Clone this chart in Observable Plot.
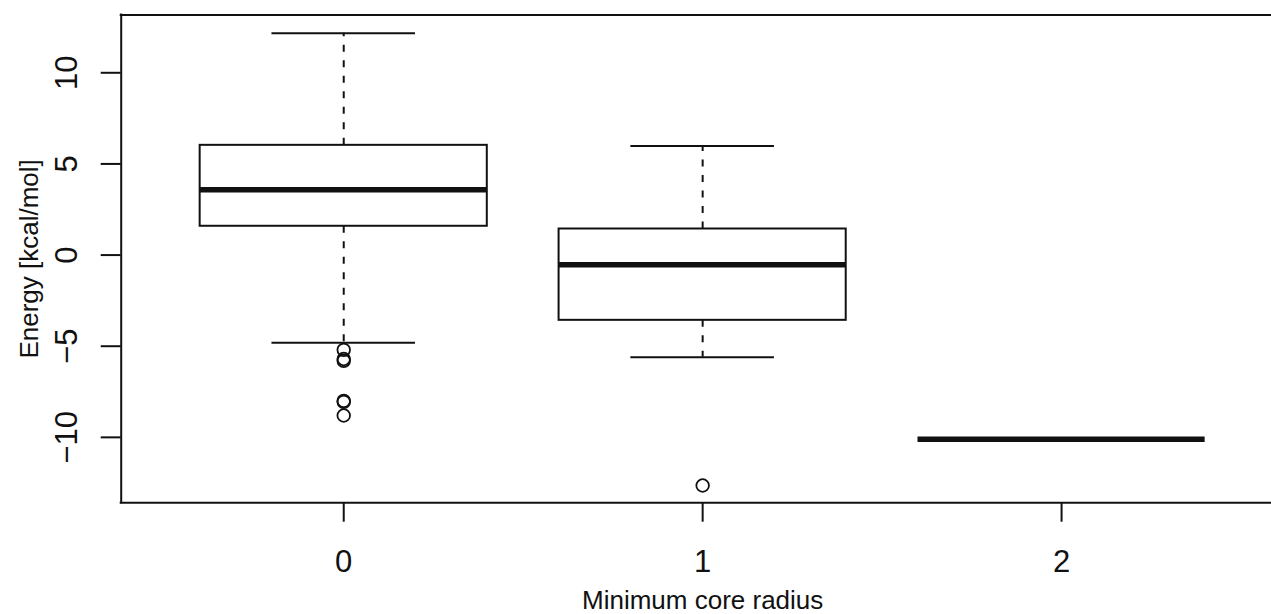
<!DOCTYPE html>
<html><head><meta charset="utf-8">
<script src="https://cdn.jsdelivr.net/npm/d3@7"></script>
<script src="https://cdn.jsdelivr.net/npm/@observablehq/plot@0.6"></script>
<style>html,body{margin:0;padding:0;background:#fff;overflow:hidden;}</style>
</head><body><div id="chart"></div>
<script>
// Data
const groups = [0, 1, 2];
const groupLabels = ["0", "1", "2"];
const whiskerLow = [-4.81, -5.61, -10.1];
const q1 = [1.58, -3.58, -10.1];
const median = [3.59, -0.53, -10.1];
const q3 = [6.02, 1.43, -10.1];
const whiskerHigh = [12.17, 5.99, -10.1];
const outlierGroup = [0, 0, 0, 0, 0, 0, 1];
const outlierValue = [-5.2, -5.7, -5.8, -8.0, -8.05, -8.8, -12.64];
const yTicks = [-10, -5, 0, 5, 10];
const yTickLabels = ["\u221210", "\u22125", "0", "5", "10"];
const xTitle = "Minimum core radius";
const yTitle = "Energy [kcal/mol]";

const boxes = groups.map((g, i) => ({g, lo: whiskerLow[i], q1: q1[i], med: median[i], q3: q3[i], hi: whiskerHigh[i]}));
const outliers = outlierGroup.map((g, i) => ({g, v: outlierValue[i]}));

const xDomain = [-0.62, 2.62];
const yDomain = [-13.59, 13.17];
const ink = "#111";
const font = "Liberation Sans, Arial, Helvetica, sans-serif";

const chart = Plot.plot({
  width: 1271,
  height: 614,
  marginLeft: 120.7,
  marginRight: 0,
  marginTop: 14.5,
  marginBottom: 111.7,
  style: {fontFamily: font, fontSize: "26px", color: ink, background: "#fff", overflow: "hidden"},
  x: {type: "linear", domain: xDomain, range: [120.7, 1283.6]},
  y: {type: "linear", domain: yDomain, range: [502.3, 14.5]},
  marks: [
    // whiskers (dashed)
    Plot.ruleX(boxes, {x: "g", y1: "q3", y2: "hi", stroke: ink, strokeWidth: 2, strokeDasharray: "7,8.5"}),
    Plot.ruleX(boxes, {x: "g", y1: "q1", y2: "lo", stroke: ink, strokeWidth: 2, strokeDasharray: "7,8.5"}),
    // staples
    Plot.ruleY(boxes, {y: "hi", x1: d => d.g - 0.2, x2: d => d.g + 0.2, stroke: ink, strokeWidth: 2}),
    Plot.ruleY(boxes, {y: "lo", x1: d => d.g - 0.2, x2: d => d.g + 0.2, stroke: ink, strokeWidth: 2}),
    // boxes
    Plot.rect(boxes, {x1: d => d.g - 0.4, x2: d => d.g + 0.4, y1: "q1", y2: "q3", fill: "white", stroke: ink, strokeWidth: 2}),
    // medians
    Plot.ruleY(boxes, {y: "med", x1: d => d.g - 0.4, x2: d => d.g + 0.4, stroke: ink, strokeWidth: 5.5}),
    // outliers
    Plot.dot(outliers, {x: "g", y: "v", r: 6.3, stroke: ink, strokeWidth: 1.8, fill: "none"}),
    // plot border
    Plot.ruleY(yDomain, {y: d => d, x1: () => xDomain[0], x2: () => xDomain[1], stroke: ink, strokeWidth: 2, strokeLinecap: "square"}),
    Plot.ruleX(xDomain, {x: d => d, y1: () => yDomain[0], y2: () => yDomain[1], stroke: ink, strokeWidth: 2, strokeLinecap: "square"}),
    // axis ticks
    Plot.axisY({ticks: yTicks, tickSize: 20, tickFormat: () => "", label: null, stroke: ink, strokeWidth: 2}),
    Plot.axisX({ticks: groups, tickSize: 19.4, tickFormat: () => "", label: null, stroke: ink, strokeWidth: 2}),
    // tick labels
    Plot.text(yTicks, {y: d => d, text: (d, i) => yTickLabels[i], frameAnchor: "left", dx: -54.5, rotate: -90, textAnchor: "middle", lineAnchor: "middle", fontSize: 31, fill: ink}),
    Plot.text(groups, {x: d => d, text: (d, i) => groupLabels[i], frameAnchor: "bottom", dy: 59, textAnchor: "middle", lineAnchor: "middle", fontSize: 31, fill: ink}),
    // axis titles
    Plot.text([xTitle], {x: () => (xDomain[0] + xDomain[1]) / 2, text: d => d, frameAnchor: "bottom", dy: 97.7, textAnchor: "middle", lineAnchor: "middle", fontSize: 26, fill: ink}),
    Plot.text([yTitle], {y: () => (yDomain[0] + yDomain[1]) / 2, text: d => d, frameAnchor: "left", dx: -91.4, rotate: -90, textAnchor: "middle", lineAnchor: "middle", fontSize: 26, fill: ink})
  ]
});
document.getElementById("chart").appendChild(chart);
</script>
</body></html>
